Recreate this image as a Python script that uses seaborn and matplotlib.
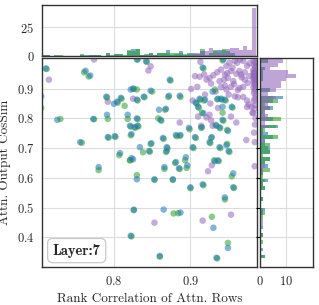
import numpy as np
import pandas as pd
import matplotlib
matplotlib.use('Agg')
import matplotlib.pyplot as plt
import seaborn as sns

# values
blue_x = [0.711, 0.705, 0.726, 0.763, 0.769, 0.773, 0.756, 0.790, 0.791, 0.792,
          0.801, 0.800, 0.804, 0.809, 0.818, 0.822, 0.825, 0.830, 0.830, 0.821,
          0.823, 0.827, 0.831, 0.839, 0.848, 0.831, 0.842, 0.859, 0.808, 0.823,
          0.834, 0.846, 0.849, 0.780, 0.825, 0.830, 0.853, 0.826, 0.822, 0.860,
          0.869, 0.881, 0.894, 0.896, 0.866, 0.885, 0.877, 0.900, 0.916, 0.932,
          0.936, 0.950, 0.956, 0.956, 0.945, 0.865, 0.887, 0.930, 0.949, 0.934,
          0.943, 0.916, 0.873, 0.872, 0.886, 0.868, 0.861, 0.907, 0.912, 0.919,
          0.929, 0.936, 0.940, 0.945, 0.942, 0.954, 0.910, 0.917, 0.898, 0.906,
          0.915, 0.928, 0.933, 0.938, 0.942, 0.949, 0.925, 0.938, 0.947, 0.864,
          0.881, 0.887, 0.903, 0.869]
blue_y = [0.968, 0.874, 0.795, 0.960, 0.944, 0.798, 0.720, 0.873, 0.812, 0.737,
          0.740, 0.849, 0.856, 0.869, 0.812, 0.897, 0.900, 0.863, 0.800, 0.775,
          0.747, 0.771, 0.775, 0.873, 0.893, 0.998, 0.992, 0.829, 0.683, 0.666,
          0.703, 0.690, 0.716, 0.636, 0.662, 0.595, 0.595, 0.493, 0.405, 0.337,
          0.690, 0.653, 0.669, 0.642, 0.636, 0.632, 0.595, 0.568, 0.578, 0.656,
          0.659, 0.690, 0.615, 0.568, 0.534, 0.493, 0.483, 0.432, 0.364, 0.331,
          0.998, 0.971, 0.930, 0.876, 0.876, 0.832, 0.795, 0.853, 0.866, 0.863,
          0.890, 0.866, 0.866, 0.863, 0.839, 0.839, 0.839, 0.817, 0.768, 0.737,
          0.770, 0.737, 0.778, 0.770, 0.795, 0.758, 0.720, 0.703, 0.710, 0.734,
          0.744, 0.744, 0.703, 0.703]

green_x = [0.712, 0.705, 0.730, 0.761, 0.767, 0.774, 0.758, 0.791, 0.792, 0.793,
           0.802, 0.814, 0.805, 0.810, 0.818, 0.830, 0.826, 0.831, 0.831, 0.822,
           0.822, 0.828, 0.832, 0.840, 0.850, 0.830, 0.843, 0.858, 0.807, 0.821,
           0.838, 0.847, 0.848, 0.780, 0.821, 0.830, 0.853, 0.826, 0.823, 0.860,
           0.868, 0.880, 0.893, 0.895, 0.866, 0.886, 0.877, 0.900, 0.917, 0.931,
           0.937, 0.951, 0.954, 0.957, 0.945, 0.878, 0.884, 0.928, 0.949, 0.935,
           0.942, 0.917, 0.874, 0.871, 0.887, 0.867, 0.862, 0.908, 0.913, 0.918,
           0.932, 0.935, 0.941, 0.946, 0.942, 0.955, 0.911, 0.915, 0.899, 0.907,
           0.914, 0.927, 0.934, 0.939, 0.943, 0.948, 0.926, 0.939, 0.948, 0.865,
           0.882, 0.886, 0.904, 0.870]
green_y = [0.966, 0.835, 0.798, 0.955, 0.941, 0.797, 0.718, 0.870, 0.798, 0.735,
           0.738, 0.842, 0.853, 0.866, 0.798, 0.897, 0.899, 0.860, 0.797, 0.772,
           0.743, 0.768, 0.773, 0.871, 0.890, 0.998, 0.990, 0.800, 0.676, 0.659,
           0.686, 0.688, 0.714, 0.626, 0.659, 0.609, 0.593, 0.491, 0.403, 0.335,
           0.687, 0.650, 0.659, 0.633, 0.630, 0.630, 0.593, 0.565, 0.575, 0.659,
           0.656, 0.687, 0.605, 0.566, 0.527, 0.480, 0.481, 0.469, 0.381, 0.329,
           0.995, 0.968, 0.927, 0.872, 0.872, 0.829, 0.792, 0.850, 0.863, 0.860,
           0.897, 0.864, 0.863, 0.860, 0.819, 0.836, 0.836, 0.819, 0.763, 0.734,
           0.768, 0.734, 0.775, 0.767, 0.792, 0.761, 0.717, 0.700, 0.714, 0.731,
           0.740, 0.741, 0.700, 0.700]

purple_x = [0.715, 0.774, 0.792, 0.825, 0.845, 0.848, 0.853, 0.928, 0.923, 0.984,
            0.916, 0.953, 0.973, 0.984, 0.886,
            0.901, 0.906, 0.909, 0.913, 0.921, 0.925, 0.927, 0.940, 0.945, 0.947,
            0.951, 0.953, 0.949, 0.956, 0.961, 0.964, 0.966, 0.964, 0.969, 0.958,
            0.962, 0.969, 0.974, 0.976, 0.980, 0.974, 0.981, 0.947, 0.950, 0.945,
            0.953, 0.958, 0.969, 0.974, 0.977, 0.975, 0.971, 0.910, 0.921, 0.925,
            0.914, 0.927, 0.929, 0.960, 0.953, 0.936,
            0.935, 0.930, 0.960, 0.967, 0.944, 0.938, 0.955, 0.948, 0.971, 0.918,
            0.912, 0.957, 0.962, 0.940, 0.933, 0.919, 0.903, 0.926, 0.977, 0.965,
            0.9825, 0.9840, 0.9855, 0.9830, 0.9850, 0.9845, 0.9820, 0.9835, 0.9855, 0.9825,
            0.9845, 0.9838, 0.9828, 0.9852, 0.9842, 0.9832, 0.9848, 0.9822, 0.9858, 0.9836,
            0.9846, 0.9826, 0.9854, 0.9834, 0.9844, 0.9824, 0.9850, 0.9838, 0.9830, 0.9856,
            0.9840, 0.9828, 0.9848, 0.9836, 0.9822, 0.9852, 0.9842, 0.9832]
purple_y = [0.930, 0.998, 0.856, 0.866, 0.961, 0.975, 0.449, 0.642, 0.622, 0.639,
            0.456, 0.476, 0.727, 0.720, 0.786,
            0.899, 0.942, 0.906, 0.990, 0.930, 0.936, 0.917, 0.964, 0.947, 0.976,
            0.987, 0.959, 0.936, 0.925, 0.987, 0.959, 0.947, 0.902, 0.906, 0.874,
            0.871, 0.872, 0.860, 0.846, 0.838, 0.838, 0.818, 0.897, 0.880, 0.910,
            0.906, 0.993, 0.993, 0.976, 0.942, 0.919, 0.930, 0.806, 0.803, 0.812,
            0.775, 0.793, 0.775, 0.786, 0.806, 0.835,
            0.955, 0.945, 0.950, 0.938, 0.930, 0.925, 0.970, 0.952, 0.955, 0.948,
            0.940, 0.915, 0.895, 0.905, 0.890, 0.880, 0.860, 0.850, 0.985, 0.998,
            0.995, 0.990, 0.985, 0.980, 0.975, 0.968, 0.962, 0.958, 0.955, 0.952,
            0.950, 0.948, 0.946, 0.944, 0.943, 0.941, 0.938, 0.935, 0.932, 0.930,
            0.927, 0.924, 0.920, 0.915, 0.911, 0.905, 0.900, 0.893, 0.885, 0.876,
            0.866, 0.858, 0.845, 0.832, 0.818, 0.800, 0.779, 0.752]

series_names = ['purple', 'green', 'blue']
pal = {'purple': '#9467bd', 'green': '#2ca02c', 'blue': '#1f77b4'}

df = pd.concat([
    pd.DataFrame({'rank': purple_x, 'cos': purple_y, 'series': 'purple'}),
    pd.DataFrame({'rank': green_x, 'cos': green_y, 'series': 'green'}),
    pd.DataFrame({'rank': blue_x, 'cos': blue_y, 'series': 'blue'}),
], ignore_index=True)

sns.set_style('whitegrid', {'axes.edgecolor': '#333333', 'grid.color': '#dcdcdc'})
plt.rcParams['font.family'] = 'serif'
plt.rcParams['font.serif'] = ['cmr10']
plt.rcParams['mathtext.fontset'] = 'cm'
plt.rcParams['axes.formatter.use_mathtext'] = True
plt.rcParams['axes.unicode_minus'] = False

g = sns.JointGrid(data=df, x='rank', y='cos', hue='series', palette=pal,
                  hue_order=series_names, height=3.05, marginal_ticks=True)
g.plot_joint(sns.scatterplot, s=22, alpha=0.55, linewidth=0, legend=False)
sns.histplot(data=df, x='rank', hue='series', hue_order=series_names, palette=pal,
             bins=50, multiple='layer', alpha=0.6, linewidth=0, legend=False, ax=g.ax_marg_x)
sns.histplot(data=df, y='cos', hue='series', hue_order=series_names, palette=pal,
             bins=55, multiple='layer', alpha=0.6, linewidth=0, legend=False, ax=g.ax_marg_y)

fig = g.figure
fig.set_size_inches(3.19, 3.05)
ax = g.ax_joint
ax.set_position([42/319, 38/305, 215/319, 209/305])
g.ax_marg_x.set_position([42/319, 249/305, 215/319, 51/305])
g.ax_marg_y.set_position([260/319, 38/305, 53/319, 209/305])

ax.set_xlim(0.706, 0.987)
ax.set_ylim(0.3, 1.003)
ax.set_xticks([0.8, 0.9])
ax.set_yticks([0.4, 0.5, 0.6, 0.7, 0.8, 0.9])
ax.set_xlabel('Rank Correlation of Attn. Rows', fontsize=9.5)
ax.set_ylabel('Attn. Output CosSim', fontsize=9.5)
ax.tick_params(labelsize=9, pad=2)

g.ax_marg_x.set_ylim(0, 44)
g.ax_marg_x.set_yticks([0, 25])
g.ax_marg_x.set_ylabel('')
g.ax_marg_x.tick_params(labelsize=9, pad=2)
g.ax_marg_x.tick_params(axis='x', labelbottom=False)
g.ax_marg_y.set_xlim(0, 20.5)
g.ax_marg_y.set_xticks([0, 10])
g.ax_marg_y.set_xlabel('')
g.ax_marg_y.tick_params(axis='x', labelsize=9, pad=2)
g.ax_marg_y.tick_params(axis='y', left=True, labelleft=False, length=3, width=0.8, color='black')

for a in [ax, g.ax_marg_x, g.ax_marg_y]:
    for sp in a.spines.values():
        sp.set_visible(True)
        sp.set_color('#333333')
        sp.set_linewidth(1.0)

ax.text(0.05, 0.045, 'Layer:7', family='cmb10', transform=ax.transAxes, fontsize=10.5,
        ha='left', va='bottom',
        bbox=dict(boxstyle='round,pad=0.35', fc='white', ec='#c8c8c8', lw=0.9))

fig.savefig('out.png', dpi=100)
